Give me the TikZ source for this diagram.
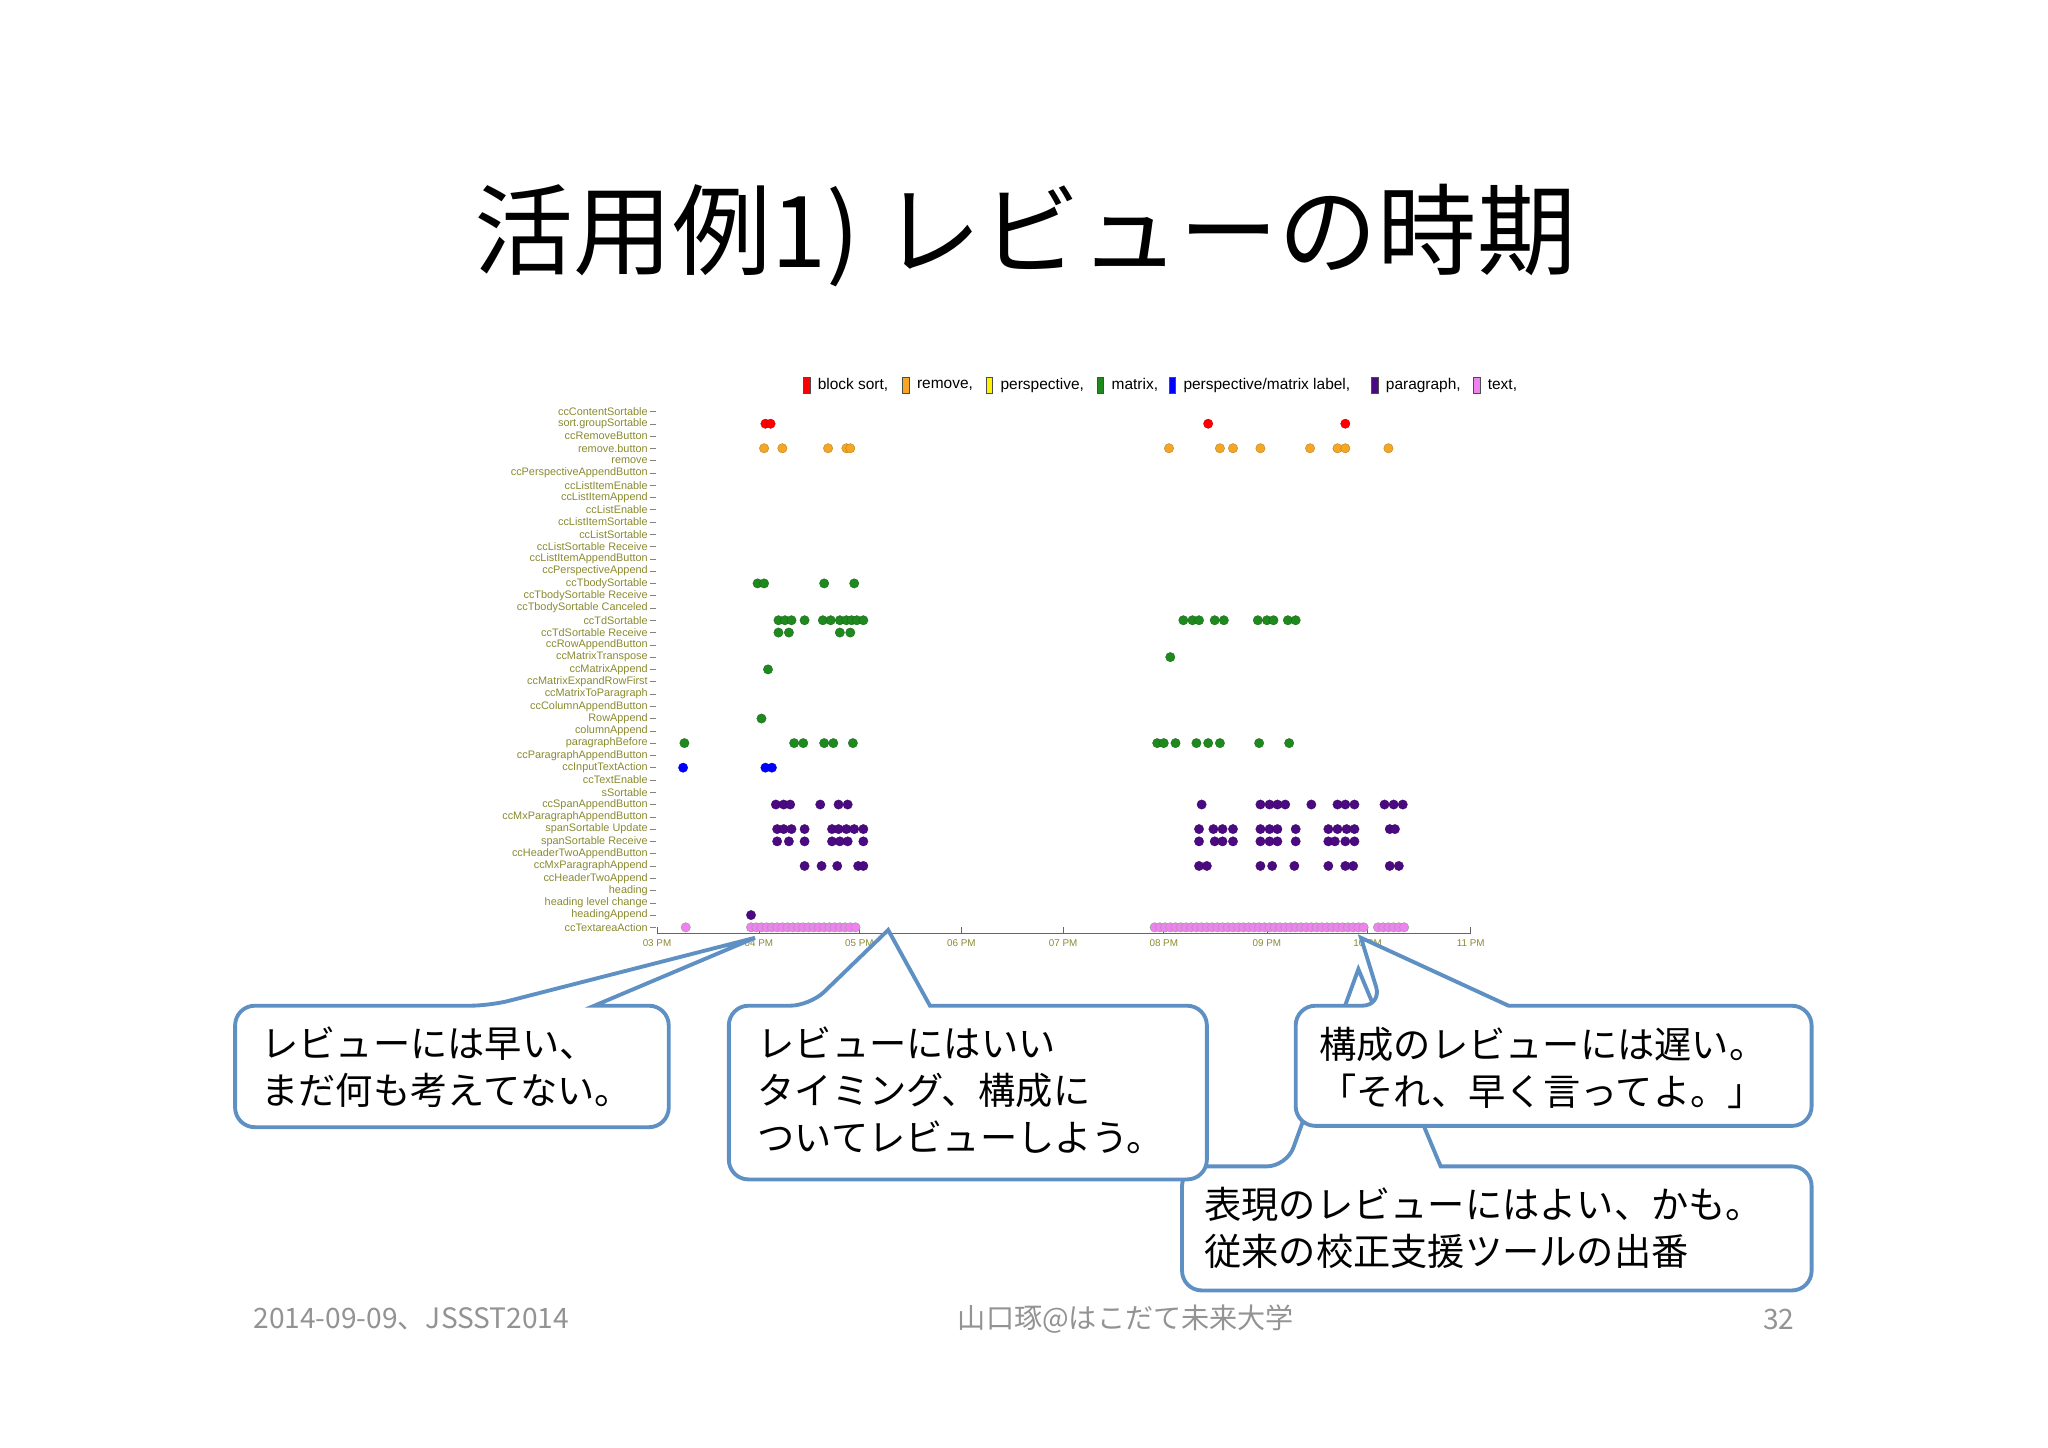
\documentclass[tikz,border=0pt]{standalone}
\usepackage{fontspec}
\setmainfont{Noto Sans CJK JP}
\newfontfamily\lab{Liberation Sans}
\begin{document}
\begin{tikzpicture}[x=0.0653cm,y=-0.0653cm,
  lbl/.style={anchor=east,inner sep=0pt,text=olv,font=\lab\fontsize{15.5}{15.5}\selectfont},
  tlbl/.style={anchor=north,inner sep=0pt,text=olv,font=\lab\fontsize{14}{14}\selectfont},
  leg/.style={anchor=west,inner sep=0pt,font=\lab\fontsize{22}{22}\selectfont},
  bub/.style={draw=bblue,line width=5.5pt,fill=white,rounded corners=28pt},
  btxt/.style={anchor=north west,inner sep=0pt,align=left,font=\fontsize{53}{67}\selectfont},
  foot/.style={inner sep=0pt,text=gray!85,font=\fontsize{40}{40}\selectfont}]
\definecolor{olv}{HTML}{8A8A30}
\definecolor{bblue}{HTML}{5E90C4}
\definecolor{dgreen}{HTML}{1E8A1E}
\definecolor{dpurp}{HTML}{4B0A82}
\definecolor{pinkc}{HTML}{EE82EE}
\definecolor{orng}{HTML}{F5A623}
\useasboundingbox (0,0) rectangle (1568,1107.9);
\node[inner sep=0pt,font=\fontsize{141}{141}\selectfont] (title) at (785,180) {活用例1) レビューの時期};
% legend
\foreach \x/\c/\t [count=\i] in {617/red/{block sort,},693/orng/{remove,},757/yellow/{perspective,},842/dgreen/{matrix,},897/blue/{perspective/matrix label,},1052/dpurp/{paragraph,},1130/pinkc/{text,}}{
  \draw[fill=\c,draw=black!70,line width=0.6pt] (\x-2,289) rectangle (\x+3,301);
  \node[leg] (leg\i) at (\x+9,295) {\t};
}
% row labels
\foreach \t [count=\i from 0] in {ccContentSortable,sort.groupSortable,ccRemoveButton,remove.button,remove,ccPerspectiveAppendButton,ccListItemEnable,ccListItemAppend,ccListEnable,ccListItemSortable,ccListSortable,ccListSortable Receive,ccListItemAppendButton,ccPerspectiveAppend,ccTbodySortable,ccTbodySortable Receive,ccTbodySortable Canceled,ccTdSortable,ccTdSortable Receive,ccRowAppendButton,ccMatrixTranspose,ccMatrixAppend,ccMatrixExpandRowFirst,ccMatrixToParagraph,ccColumnAppendButton,RowAppend,columnAppend,paragraphBefore,ccParagraphAppendButton,ccInputTextAction,ccTextEnable,sSortable,ccSpanAppendButton,ccMxParagraphAppendButton,spanSortable Update,spanSortable Receive,ccHeaderTwoAppendButton,ccMxParagraphAppend,ccHeaderTwoAppend,heading,heading level change,headingAppend,ccTextareaAction}{
  \node[lbl] (r\i) at (496,315+\i*9.405) {\t};
  \draw[gray,line width=0.6pt] (498,315+\i*9.405) -- (502,315+\i*9.405);
}
% axis
\draw[gray!80!black,line width=1.2pt] (503,715) -- (1126,715);
\foreach \x/\t [count=\i] in {503/03 PM,581/04 PM,658/05 PM,736/06 PM,814/07 PM,891/08 PM,970/09 PM,1047/10 PM,1126/11 PM}{
  \draw[gray!80!black,line width=1pt] (\x,715) -- (\x,710);
  \node[tlbl] (t\i) at (\x,719) {\t};
}
% dots
\newcommand\plotrow[3]{\foreach \x in {#3}{\fill[#2,draw=#2!70!black,line width=0.4pt] (\x,315+#1*9.405) circle[radius=3.6];}}
\plotrow{1}{red}{586,590,925,1030}
\plotrow{3}{orng}{585,599,634,648,651,895,934,944,965,1003,1024,1030,1063}
\plotrow{14}{dgreen}{580,585,631,654}
\plotrow{17}{dgreen}{596,601,606,616,630,636,643,648,652,656,661,906,913,918,930,937,963,970,975,986,992}
\plotrow{18}{dgreen}{596,604,643,651}
\plotrow{20}{dgreen}{896}
\plotrow{21}{dgreen}{588}
\plotrow{25}{dgreen}{583}
\plotrow{27}{dgreen}{524,608,615,631,638,653,886,891,900,916,925,934,964,987}
\plotrow{29}{blue}{523,586,591}
\plotrow{32}{dpurp}{594,600,605,628,642,649,920,965,972,978,984,1004,1024,1030,1037,1060,1067,1074}
\plotrow{34}{dpurp}{595,600,606,616,637,642,648,654,661,918,929,936,944,965,972,978,992,1017,1024,1031,1037,1064,1068}
\plotrow{35}{dpurp}{595,604,616,637,643,649,661,918,930,936,944,965,972,978,992,1017,1022,1030,1037}
\plotrow{37}{dpurp}{616,629,641,657,661,918,924,965,974,991,1017,1030,1036,1064,1071}
\plotrow{41}{dpurp}{575}
\foreach \x in {525,575,579,...,655,884,888,...,1044,1055,1059,...,1078}{
  \fill[pinkc,draw=gray!80,line width=0.6pt] (\x,710) circle[radius=3.6];}
% callouts
\coordinate (p1) at (578,718);
\coordinate (p2) at (680,712);
\coordinate (p3) at (1042,718);
\coordinate (p4) at (1040,742);
\draw[bub] (1103,893) -- (1387,893) -- (1387,988) -- (905,988) -- (905,893) -- (985,893) [sharp corners] -- (p4) -- cycle;
\node[btxt] (b4) at (922,909) {表現のレビューにはよい、かも。\\従来の校正支援ツールの出番};
\draw[bub] (712,770) -- (924,770) -- (924,903) -- (558,903) -- (558,770) -- (620,770) [sharp corners] -- (p2) -- cycle;
\node[btxt] (b2) at (580,786) {レビューにはいい\\タイミング、構成に\\ついてレビューしよう。};
\draw[bub] (1155,770) -- (1387,770) -- (1387,862) -- (992,862) -- (992,770) -- (1058,770) [sharp corners] -- (p3) -- cycle;
\node[btxt] (b3) at (1010,786) {構成のレビューには遅い。\\「それ、早く言ってよ。」};
\draw[bub] (455,770) -- (512,770) -- (512,863) -- (180,863) -- (180,770) -- (375,770) [sharp corners] -- (p1) -- cycle;
\node[btxt] (b1) at (200,786) {レビューには早い、\\まだ何も考えてない。};
% footer
\node[foot,anchor=west] (f1) at (194,1010) {2014-09-09、JSSST2014};
\node[foot] (f2) at (862,1010) {山口琢@はこだて未来大学};
\node[foot,anchor=east] (f3) at (1374,1010) {32};
\end{tikzpicture}
\end{document}
